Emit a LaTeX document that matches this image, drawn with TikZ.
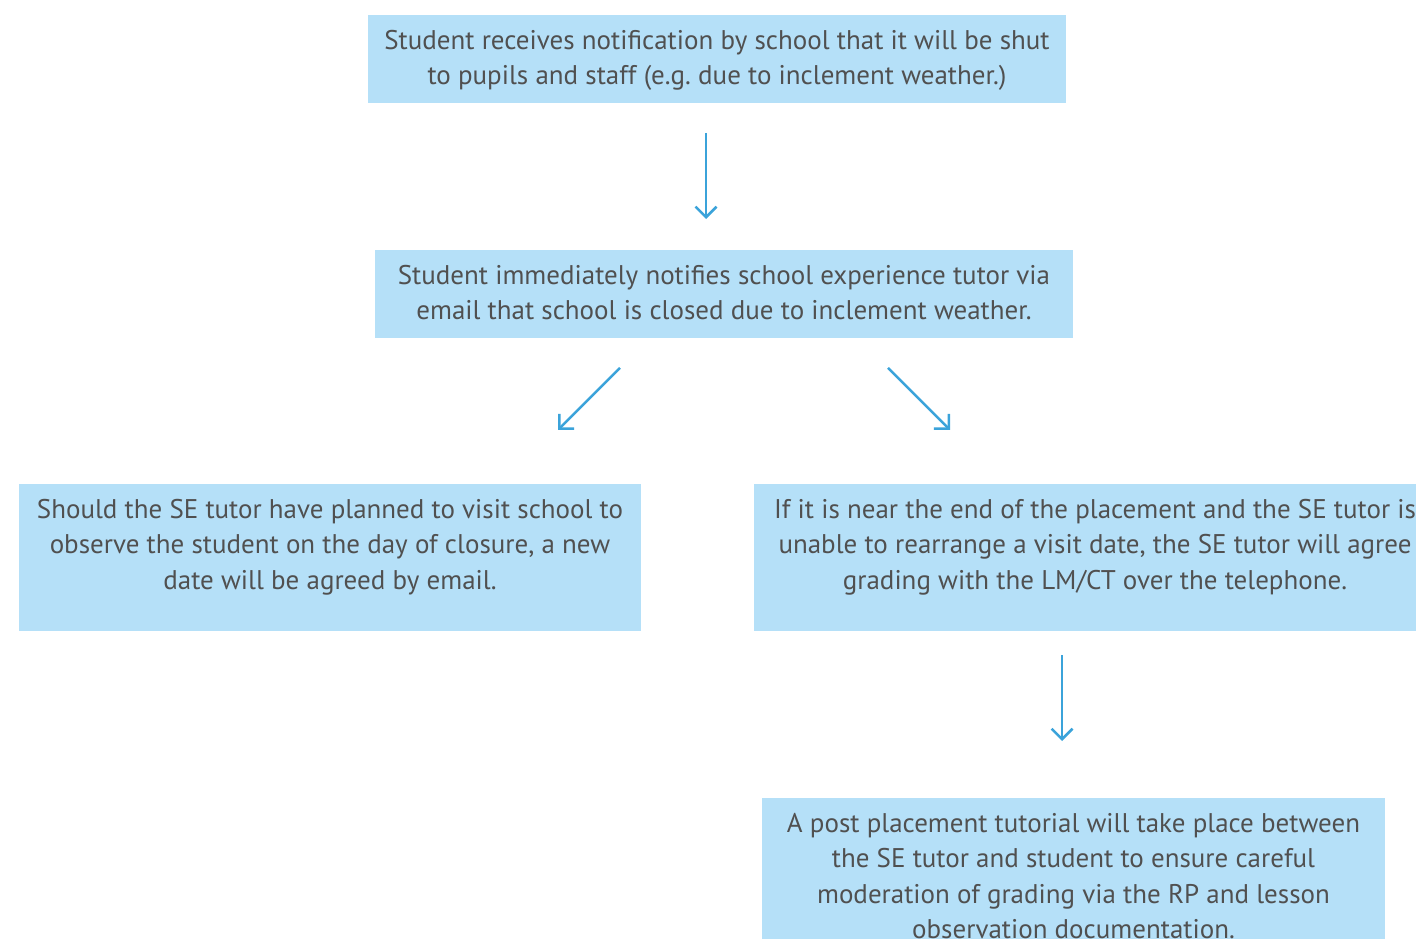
\documentclass[tikz,border=0pt]{standalone}
\usepackage{fontspec}
\setmainfont{PT Sans}
\usetikzlibrary{arrows.meta}
\definecolor{boxblue}{HTML}{B5E0F8}
\definecolor{arrowblue}{HTML}{3BA3DA}
\definecolor{textgrey}{HTML}{505050}
\tikzset{
  flowbox/.style={fill=boxblue, text=textgrey, anchor=north, align=center,
    inner xsep=6pt, inner ysep=0pt,
    font=\fontsize{27}{35.5}\selectfont},
  flowarrow/.style={draw=arrowblue, line width=2.5pt,
    -{Straight Barb[length=10.5pt, width=21pt]}},
}
\begin{document}
\begin{tikzpicture}[x=1pt, y=-1pt]
  \useasboundingbox (0,0) rectangle (1416,938);
  \clip (0,0) rectangle (1416,938);
  % boxes, top edge given; text height runs from the last baseline up
  \node[flowbox, minimum width=698pt, text height=69.5pt, text depth=18pt]
    (notice) at (717,15)
    {Student receives notification by school that it will be shut\\
     to pupils and staff (e.g.\ due to inclement weather.)};
  \node[flowbox, minimum width=698pt, text height=69.5pt, text depth=18pt]
    (emailtutor) at (724,250)
    {Student immediately notifies school experience tutor via\\
     email that school is closed due to inclement weather.};
  \node[flowbox, minimum width=622pt, text height=105pt, text depth=42pt]
    (newdate) at (330,484)
    {Should the SE tutor have planned to visit school to\\
     observe the student on the day of closure, a new\\
     date will be agreed by email.};
  \node[flowbox, minimum width=682pt, text height=105pt, text depth=42pt]
    (phonegrade) at (1095,484)
    {If it is near the end of the placement and the SE tutor is\\
     unable to rearrange a visit date, the SE tutor will agree\\
     grading with the LM/CT over the telephone.};
  \node[flowbox, minimum width=623pt, text height=140.5pt, text depth=30pt]
    (tutorial) at (1073.5,798)
    {A post placement tutorial will take place between\\
     the SE tutor and student to ensure careful\\
     moderation of grading via the RP and lesson\\
     observation documentation.};
  % arrows
  \draw[flowarrow, shorten <=30pt, shorten >=31pt]
    ([xshift=-11pt]notice.south) -- ([xshift=-18pt]emailtutor.north);
  \draw[flowarrow, shorten <=42.4pt, shorten >=76.4pt]
    ([xshift=-74pt]emailtutor.south) -- ([xshift=174pt]newdate.north);
  \draw[flowarrow, shorten <=42.4pt, shorten >=76.4pt]
    ([xshift=134pt]emailtutor.south) -- ([xshift=-91pt]phonegrade.north);
  \draw[flowarrow, shorten <=24pt, shorten >=57pt]
    ([xshift=-33pt]phonegrade.south) -- ([xshift=-11.5pt]tutorial.north);
\end{tikzpicture}
\end{document}
